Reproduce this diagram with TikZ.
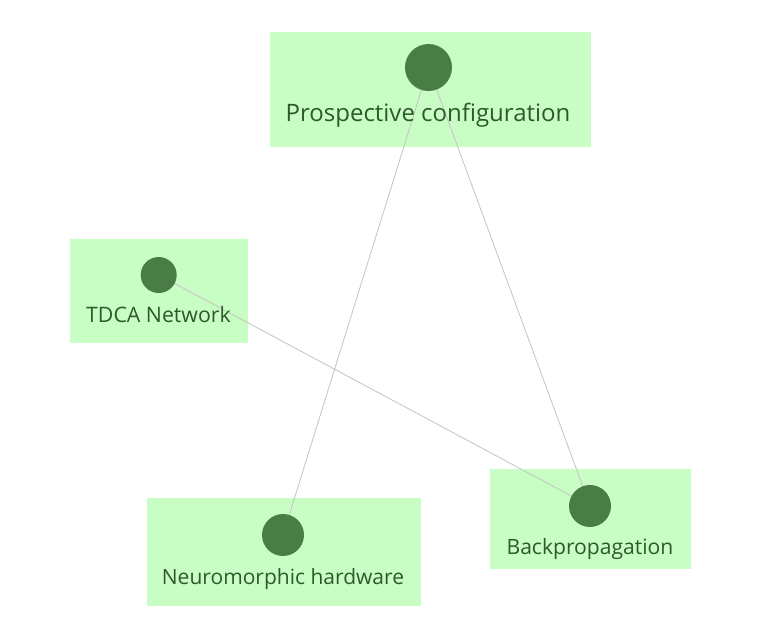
\documentclass[tikz,border=0pt]{standalone}
\usepackage{fontspec}
\setmainfont{Open Sans}
\begin{document}
\begin{tikzpicture}[x=1pt,y=-1pt,
  box/.style={fill=boxg, draw=none},
  dot/.style={circle, fill=dotg, draw=none, inner sep=0pt},
  lbl/.style={text=txtg, inner sep=0pt, anchor=base},
  edge/.style={draw=lineg, line width=0.8pt}]
\definecolor{boxg}{HTML}{C8FDC4}
\definecolor{dotg}{HTML}{4A7D46}
\definecolor{txtg}{HTML}{2E5A2B}
\definecolor{lineg}{HTML}{C4C4C4}
\useasboundingbox (0,0) rectangle (784,642);
\fill[white] (0,0) rectangle (784,642);
% boxes
\path[box] (270,32) rectangle (591,147);
\path[box] (70,239) rectangle (248,343);
\path[box] (147,498) rectangle (421,606);
\path[box] (490,469) rectangle (691,569);
% coordinates of dots
\coordinate (pc) at (428.5,67.5);
\coordinate (td) at (158.7,275);
\coordinate (nh) at (283,535);
\coordinate (bp) at (590,506);
% edges
\draw[edge] (pc) -- (nh);
\draw[edge] (pc) -- (bp);
\draw[edge] (td) -- (bp);
% dots
\node[dot, minimum size=47pt] (pcd) at (pc) {};
\node[dot, minimum size=36pt] (tdd) at (td) {};
\node[dot, minimum size=42pt] (nhd) at (nh) {};
\node[dot, minimum size=42pt] (bpd) at (bp) {};
% labels
\node[lbl, font=\fontsize{24}{28}\selectfont] (pcl) at (428,121.5) {Prospective configuration};
\node[lbl, font=\fontsize{21.3}{25}\selectfont] (tdl) at (158.5,322) {TDCA Network};
\node[lbl, font=\fontsize{21}{25}\selectfont] (nhl) at (283,584) {Neuromorphic hardware};
\node[lbl, font=\fontsize{21.1}{25}\selectfont] (bpl) at (590,554.5) {Backpropagation};
\end{tikzpicture}
\end{document}
